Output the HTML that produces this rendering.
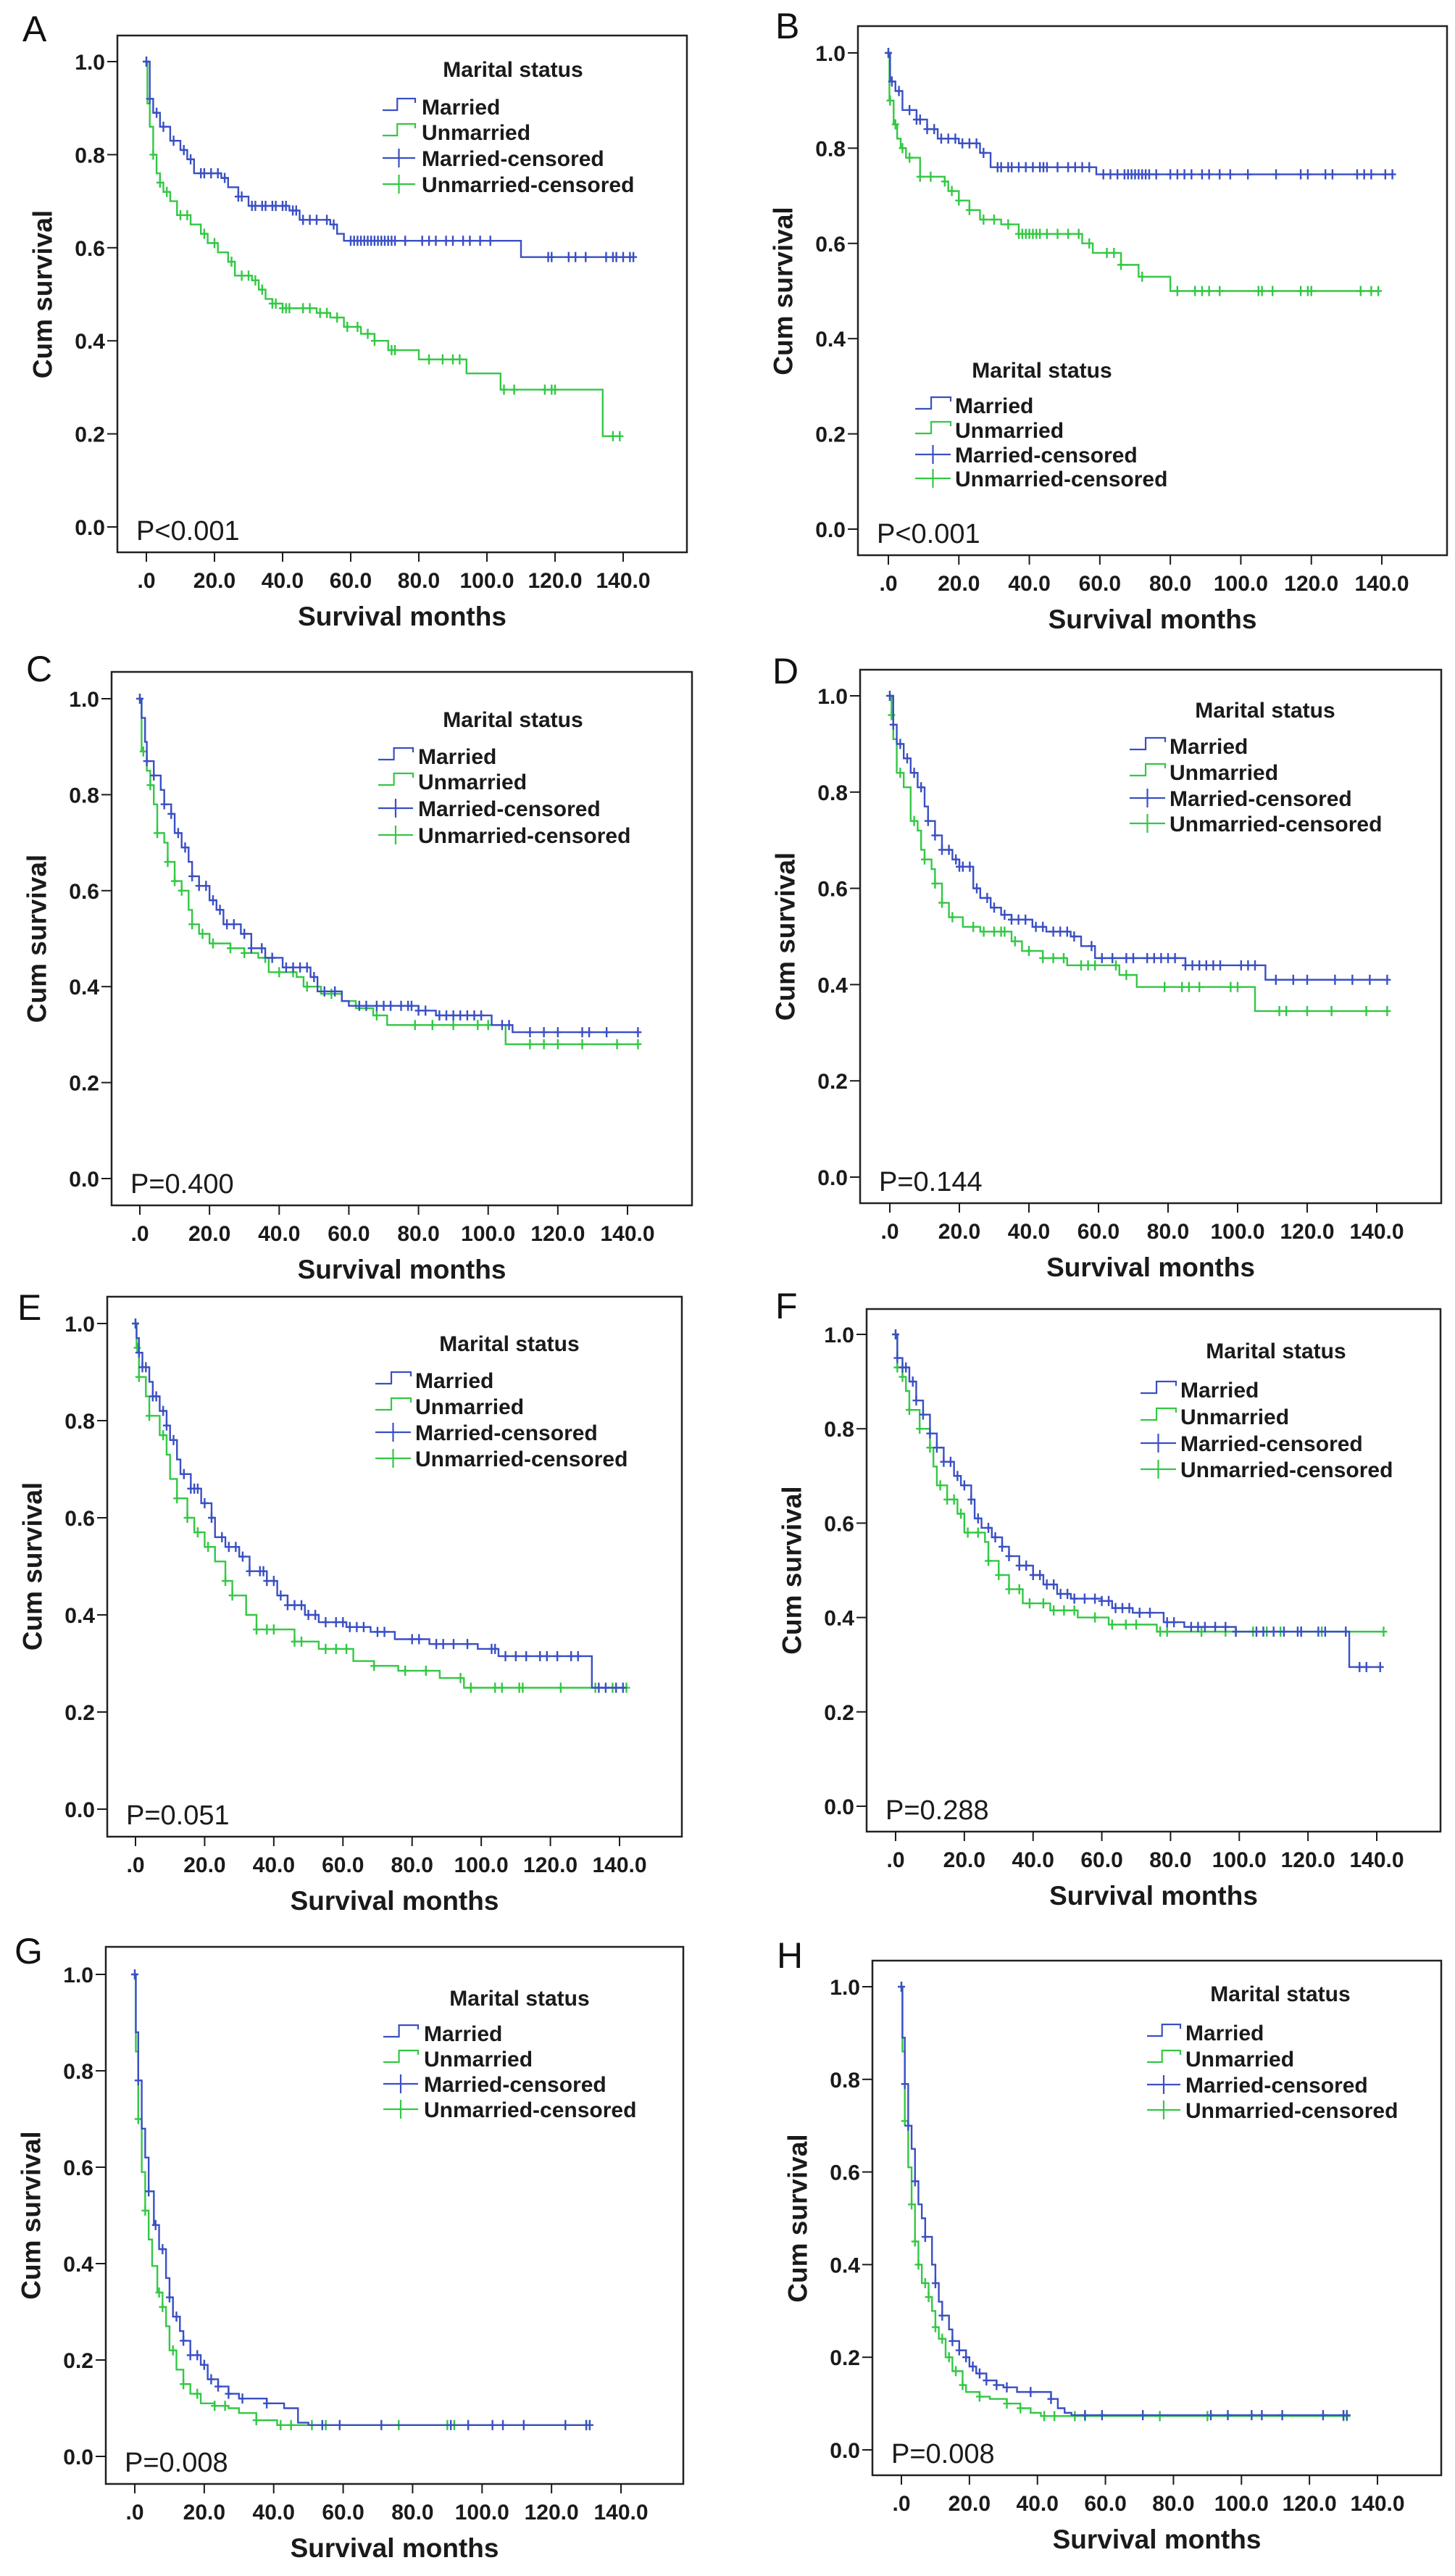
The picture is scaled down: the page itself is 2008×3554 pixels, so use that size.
<!DOCTYPE html>
<html><head><meta charset="utf-8"><title>Kaplan-Meier survival by marital status</title>
<style>
html,body{margin:0;padding:0;background:#fff;}
svg{display:block;font-family:"Liberation Sans",Arial,sans-serif;}
.tick{font-size:30px;font-weight:bold;fill:#1a1a1a;}
.axt{font-size:37px;font-weight:bold;fill:#1a1a1a;}
.leg{font-size:30px;font-weight:bold;fill:#1a1a1a;}
.pv{font-size:38px;fill:#1a1a1a;}
.plab{font-size:50px;fill:#111;}
</style></head>
<body>
<svg id="fig" width="2008" height="3554" viewBox="0 0 2008 3554" xmlns="http://www.w3.org/2000/svg"></svg>
<script>
// ---------- shared axis data ----------
var xTicks = [0,20,40,60,80,100,120,140];
var xTickLabels = ['.0','20.0','40.0','60.0','80.0','100.0','120.0','140.0'];
var yTicks = [0,0.2,0.4,0.6,0.8,1.0];
var yTickLabels = ['0.0','0.2','0.4','0.6','0.8','1.0'];

// ---------- Panel A ----------
var aMarT = [1,2,4,7,10,12,14,22,24,27,30,42,45,54,56,58,110];
var aMarS = [0.92,0.89,0.86,0.83,0.81,0.79,0.76,0.75,0.73,0.71,0.69,0.68,0.66,0.65,0.63,0.615,0.58];
var aMarC = [1,3,5,8,11,13,16,17,19,21,23,27,28,31,32,34,35,37,38,40,41,43,44,46,48,50,53,55,60,61,62,63,64,65,66,67,68,69,70,71,72,73,76,81,83,85,88,90,93,95,98,101,118,119,124,126,129,135,137,138,140,142,143];
var aUnmT = [0.3,1,2,3,4,5,7,9,13,16,18,21,24,26,31,33,35,37,40,50,54,58,63,67,71,80,94,104,134];
var aUnmS = [0.91,0.86,0.80,0.76,0.74,0.72,0.70,0.67,0.65,0.63,0.61,0.59,0.57,0.54,0.53,0.51,0.49,0.48,0.47,0.46,0.45,0.43,0.415,0.40,0.38,0.36,0.33,0.295,0.195];
var aUnmC = [2,4,6,10,12,17,20,25,28,30,32,34,37,38,40,41,42,46,48,51,53,56,59,62,65,67,72,73,83,87,90,92,105,108,117,119,120,137,139];

// ---------- Panel B ----------
var bMarT = [0.5,2,4,8,11,14,20,26,29,59];
var bMarS = [0.94,0.92,0.88,0.86,0.84,0.82,0.81,0.79,0.76,0.745];
var bMarC = [1,3,6,8,9,11,13,15,17,19,21,23,25,27,31,32,34,35,37,39,41,43,44,45,48,51,53,55,57,61,63,65,67,68,69,70,71,72,73,74,76,80,82,84,86,89,91,94,97,102,110,117,119,124,126,133,135,137,141,143];
var bUnmT = [0.3,1.5,2.5,3.5,5,9,16,17,20,23,26,32,37,55,58,66,71,80];
var bUnmS = [0.90,0.85,0.82,0.80,0.78,0.74,0.73,0.71,0.69,0.67,0.65,0.64,0.62,0.60,0.58,0.555,0.53,0.50];
var bUnmC = [0.5,2,4,6,9,12,16,18,20,23,27,30,34,37,38,39,40,41,42,43,45,48,51,54,57,62,64,66,72,82,87,89,91,94,105,106,109,117,119,120,134,137,139];

// ---------- Panel C ----------
var cMarT = [0.5,1.5,2,4,6,7,9,10,12,14,15,17,20,22,24,29,32,36,41,49,51,58,60,80,85,101,107];
var cMarS = [0.96,0.91,0.87,0.84,0.81,0.78,0.76,0.72,0.69,0.66,0.63,0.61,0.58,0.56,0.53,0.51,0.48,0.46,0.44,0.42,0.39,0.37,0.36,0.35,0.34,0.32,0.305];
var cMarC = [2,4,7,9,11,13,15,17,19,21,23,25,27,30,32,35,38,42,44,46,48,50,53,56,63,65,68,70,72,75,77,78,80,82,86,88,90,92,94,96,98,104,106,112,116,120,127,129,134,143];
var cUnmT = [0.5,2,3,4,5,7,8,10,12,14,15,17,20,26,30,34,37,45,47,52,58,62,67,71,105];
var cUnmS = [0.89,0.85,0.82,0.78,0.72,0.70,0.66,0.62,0.60,0.56,0.53,0.51,0.49,0.48,0.47,0.46,0.43,0.42,0.40,0.385,0.37,0.355,0.34,0.32,0.28];
var cUnmC = [1,3,5,8,10,12,15,18,21,26,30,36,40,44,48,55,68,79,84,90,97,100,112,116,120,127,137,143];

// ---------- Panel D ----------
var dMarT = [1,2,4,6,8,10,11,13,15,18,20,24,26,29,32,35,41,45,52,55,59,85,108];
var dMarS = [0.94,0.90,0.87,0.84,0.81,0.77,0.74,0.71,0.68,0.66,0.645,0.60,0.58,0.56,0.545,0.535,0.52,0.51,0.50,0.48,0.455,0.44,0.41];
var dMarC = [1,3,5,7,9,11,13,15,17,19,20,21,23,25,28,30,33,35,37,39,42,44,47,49,51,53,58,61,64,68,70,74,76,78,80,82,85,87,89,91,93,95,101,103,105,111,116,120,128,133,138,143];
var dUnmT = [0.5,1,2,4,6,8,9,10,12,13,15,17,21,26,35,38,44,51,66,71,105];
var dUnmS = [0.96,0.91,0.84,0.81,0.74,0.72,0.68,0.66,0.64,0.61,0.57,0.54,0.52,0.51,0.49,0.47,0.455,0.44,0.42,0.395,0.345];
var dUnmC = [0.5,3,7,10,13,15,18,24,27,30,32,33,36,40,44,47,50,55,57,59,65,68,79,84,86,89,98,100,112,114,120,127,137,143];

// ---------- Panel E ----------
var eMarT = [0.3,1,2,4,5,7,9,10,12,13,16,19,22,23,26,30,33,38,41,44,49,53,61,68,75,85,99,105,132];
var eMarS = [0.97,0.94,0.91,0.88,0.85,0.82,0.79,0.76,0.72,0.69,0.66,0.63,0.60,0.56,0.54,0.52,0.49,0.47,0.44,0.42,0.40,0.385,0.375,0.365,0.35,0.34,0.33,0.315,0.25];
var eMarC = [1,2,3,5,6,8,9,11,14,16,17,18,20,22,25,27,29,31,33,36,37,38,40,42,44,46,48,50,52,55,58,60,62,64,66,70,72,80,82,87,89,92,96,103,104,107,110,113,117,119,122,126,128,134,136,139,141];
var eUnmT = [0.3,1,3,4,7,9,10,12,15,17,20,23,26,28,32,35,46,53,63,69,76,88,95];
var eUnmS = [0.95,0.89,0.85,0.81,0.77,0.73,0.68,0.64,0.60,0.57,0.54,0.51,0.47,0.44,0.40,0.37,0.345,0.33,0.305,0.295,0.285,0.27,0.25];
var eUnmC = [0.5,1,4,8,12,15,18,21,26,28,35,38,40,46,48,55,58,61,69,78,84,94,97,104,106,111,112,123,133,138,142];

// ---------- Panel F ----------
var fMarT = [0.5,2,4,6,8,10,12,14,17,19,22,23,25,28,31,33,36,40,43,47,51,60,63,69,78,84,99,132];
var fMarS = [0.95,0.93,0.90,0.86,0.83,0.79,0.76,0.73,0.70,0.68,0.65,0.61,0.59,0.57,0.55,0.53,0.51,0.49,0.47,0.45,0.44,0.435,0.42,0.41,0.39,0.38,0.37,0.295];
var fMarC = [0.5,2,3,5,6,8,10,12,14,16,18,20,22,24,27,29,31,33,36,38,40,42,44,46,48,50,52,55,58,60,62,64,66,68,71,74,79,81,86,88,90,93,96,99,105,107,110,113,117,118,123,125,131,135,137,141];
var fUnmT = [0.5,2,3,4,7,10,11,12,15,18,20,26,27,30,33,37,45,53,62,76];
var fUnmS = [0.93,0.91,0.88,0.84,0.80,0.76,0.72,0.68,0.65,0.62,0.58,0.56,0.52,0.49,0.46,0.43,0.415,0.40,0.385,0.37];
var fUnmC = [0.5,2,4,7,10,13,15,17,19,21,24,27,30,33,36,39,43,46,49,52,58,63,67,70,77,79,89,96,99,104,108,112,118,124,131,142];

// ---------- Panel G ----------
var gMarT = [0.3,1,2,3,4,5.5,7,9,10,11,13,14,16,19,21,24,27,30,38,43,47,50];
var gMarS = [0.88,0.78,0.68,0.62,0.55,0.48,0.43,0.37,0.33,0.29,0.26,0.24,0.21,0.19,0.16,0.145,0.13,0.12,0.11,0.10,0.07,0.065];
var gMarC = [1,4,6,8,10,12,14,16,18,20,22,24,27,31,38,54,59,71,91,96,103,106,112,124,130,131];
var gUnmT = [0.3,1,2,3,4,5,6.5,8,9,10,12,14,16,19,23,27,30,35,41];
var gUnmS = [0.84,0.70,0.59,0.51,0.45,0.395,0.34,0.31,0.27,0.22,0.18,0.15,0.13,0.11,0.105,0.10,0.09,0.075,0.065];
var gUnmC = [1,3,7,8,11,14,18,23,26,35,42,45,51,55,76,90,92,130,131];

// ---------- Panel H ----------
var hMarT = [0.3,1,2,3,4,5,6,7,9,10,11,12,14,15,17,19,20,22,25,28,30,34,44,46,48,50];
var hMarS = [0.89,0.79,0.70,0.65,0.58,0.53,0.50,0.46,0.40,0.36,0.32,0.29,0.26,0.235,0.215,0.20,0.18,0.165,0.15,0.14,0.135,0.125,0.11,0.09,0.08,0.075];
var hMarC = [1,2,4,7,10,12,15,17,19,21,23,25,28,31,38,44,54,59,71,91,96,103,106,112,124,130,131];
var hUnmT = [0.3,1,2,3,4,5,6,8,9,10,11,13,15,18,19,23,26,31,35,38,41];
var hUnmS = [0.86,0.71,0.61,0.53,0.45,0.40,0.36,0.33,0.30,0.265,0.24,0.20,0.17,0.14,0.125,0.115,0.11,0.10,0.09,0.08,0.073];
var hUnmC = [1,3,4,5,7,8,10,12,14,16,18,23,31,35,42,45,51,54,76,90,130,131];

var panelLetters = ['A','B','C','D','E','F','G','H'];
var pValues = ['P<0.001','P<0.001','P=0.400','P=0.144','P=0.051','P=0.288','P=0.008','P=0.008'];

// ---------- layout (pixel geometry, not data) ----------
var layout = [
 {box:[162,49,948,762], x0:202, x140:860, y0:727, y1:85, lt:[708,96], rows:[147,182,218,254], lx:[528,573], tx:582, let:[31,57]},
 {box:[1184,36,1997,766], x0:1226, x140:1907, y0:730, y1:73, lt:[1438,511], rows:[559,593,627,660], lx:[1263,1312], tx:1318, let:[1070,53]},
 {box:[154,927,955,1663], x0:193, x140:866, y0:1626, y1:964, lt:[708,993], rows:[1043,1078,1115,1152], lx:[522,570], tx:577, let:[36,940]},
 {box:[1187,924,1989,1660], x0:1228, x140:1900, y0:1624, y1:960, lt:[1746,980], rows:[1029,1065,1101,1136], lx:[1559,1608], tx:1614, let:[1066,943]},
 {box:[148,1789,941,2534], x0:187, x140:855, y0:2496, y1:1826, lt:[703,1854], rows:[1904,1940,1976,2012], lx:[518,567], tx:573, let:[24,1821]},
 {box:[1196,1806,1988,2527], x0:1236, x140:1900, y0:2492, y1:1841, lt:[1761,1864], rows:[1917,1954,1991,2027], lx:[1574,1623], tx:1629, let:[1070,1819]},
 {box:[146,2686,943,3427], x0:186, x140:857, y0:3389, y1:2724, lt:[717,2757], rows:[2805,2840,2875,2910], lx:[529,577], tx:585, let:[20,2709]},
 {box:[1204,2705,1989,3415], x0:1244, x140:1901, y0:3380, y1:2741, lt:[1767,2751], rows:[2804,2840,2876,2911], lx:[1583,1629], tx:1636, let:[1072,2715]}
];
var series = [
 [aMarT,aMarS,aMarC,aUnmT,aUnmS,aUnmC],
 [bMarT,bMarS,bMarC,bUnmT,bUnmS,bUnmC],
 [cMarT,cMarS,cMarC,cUnmT,cUnmS,cUnmC],
 [dMarT,dMarS,dMarC,dUnmT,dUnmS,dUnmC],
 [eMarT,eMarS,eMarC,eUnmT,eUnmS,eUnmC],
 [fMarT,fMarS,fMarC,fUnmT,fUnmS,fUnmC],
 [gMarT,gMarS,gMarC,gUnmT,gUnmS,gUnmC],
 [hMarT,hMarS,hMarC,hUnmT,hUnmS,hUnmC]
];

var BLUE = '#3a4fc4', GREEN = '#33c844', INK = '#1a1a1a';
var NS = 'http://www.w3.org/2000/svg';
var svg = document.getElementById('fig');

function mk(tag, attrs, parent, text) {
  var el = document.createElementNS(NS, tag);
  for (var k in attrs) el.setAttribute(k, attrs[k]);
  if (text !== undefined) el.textContent = text;
  parent.appendChild(el);
  return el;
}
function survAt(T, S, t) {
  var s = 1;
  for (var i = 0; i < T.length; i++) { if (T[i] <= t) s = S[i]; else break; }
  return s;
}

function drawPanel(p) {
  var L = layout[p], d = series[p];
  var bx = L.box;
  var X = function (m) { return L.x0 + (L.x140 - L.x0) * m / 140; };
  var Y = function (s) { return L.y0 + (L.y1 - L.y0) * s; };

  var g = mk('g', {}, svg);
  
  

  var lab = mk('text', {x: L.let[0], y: L.let[1], 'class': 'plab'}, g, panelLetters[p]);
  
  

  var frame = mk('rect', {x: bx[0], y: bx[1], width: bx[2]-bx[0], height: bx[3]-bx[1], fill: 'none', stroke: '#222', 'stroke-width': 2.5}, g);
  
  

  // y axis ticks
  var ya = mk('g', {}, g);
  
  
  for (var i = 0; i < yTicks.length; i++) {
    var yy = Y(yTicks[i]);
    mk('line', {x1: bx[0]-14, x2: bx[0], y1: yy, y2: yy, stroke: INK, 'stroke-width': 2}, ya);
    var tl = mk('text', {x: bx[0]-17, y: yy+11, 'text-anchor': 'end', 'class': 'tick'}, ya, yTickLabels[i]);
    
    
  }
  // x axis ticks
  var xa = mk('g', {}, g);
  
  
  for (var j = 0; j < xTicks.length; j++) {
    var xx = X(xTicks[j]);
    mk('line', {x1: xx, x2: xx, y1: bx[3], y2: bx[3]+13, stroke: INK, 'stroke-width': 2}, xa);
    var xl = mk('text', {x: xx, y: bx[3]+49, 'text-anchor': 'middle', 'class': 'tick'}, xa, xTickLabels[j]);
    
    
  }
  var xt = mk('text', {x: (bx[0]+bx[2])/2, y: bx[3]+101, 'text-anchor': 'middle', 'class': 'axt'}, g, 'Survival months');
  
  
  var cy = (L.y0 + L.y1) / 2, cx = bx[0] - 103;
  var yt = mk('text', {x: cx, y: cy, 'text-anchor': 'middle', 'dominant-baseline': 'central', transform: 'rotate(-90 ' + cx + ' ' + cy + ')', 'class': 'axt'}, g, 'Cum survival');
  
  

  // curves
  var names = ['married', 'unmarried'], cols = [BLUE, GREEN];
  for (var k = 1; k >= 0; k--) {
    var T = d[k*3], S = d[k*3+1], C = d[k*3+2];
    var end = Math.max(T[T.length-1], C[C.length-1]);
    var dstr = 'M' + X(0) + ',' + Y(1);
    for (var q = 0; q < T.length; q++) dstr += 'H' + X(T[q]) + 'V' + Y(S[q]);
    dstr += 'H' + X(end);
    var path = mk('path', {d: dstr, fill: 'none', stroke: cols[k], 'stroke-width': 2.4}, g);
    
    
    var cg = mk('g', {stroke: cols[k], 'stroke-width': 2.4}, g);
    
    
    var marks = [0].concat(C);
    for (var r = 0; r < marks.length; r++) {
      var mx = X(marks[r]), my = Y(survAt(T, S, marks[r]));
      mk('line', {x1: mx, x2: mx, y1: my-7, y2: my+7}, cg);
      mk('line', {x1: mx-5, x2: mx+5, y1: my, y2: my}, cg);
    }
  }

  // p value
  var pv = mk('text', {x: bx[0]+26, y: bx[3]-17, 'class': 'pv'}, g, pValues[p]);
  
  

  // legend
  var lg = mk('g', {}, g);
  
  
  var ttl = mk('text', {x: L.lt[0], y: L.lt[1]+10, 'text-anchor': 'middle', 'class': 'leg'}, lg, 'Marital status');
  
  
  var labels = ['Married', 'Unmarried', 'Married-censored', 'Unmarried-censored'];
  var lcols = [BLUE, GREEN, BLUE, GREEN];
  for (var e = 0; e < 4; e++) {
    var ry = L.rows[e], x1 = L.lx[0], x2 = L.lx[1];
    var eg = mk('g', {}, lg);
    
    
    if (e < 2) {
      var mid = x1 + (x2 - x1) * 0.45;
      mk('path', {d: 'M' + x1 + ',' + (ry+5) + 'H' + mid + 'V' + (ry-11) + 'H' + x2 + 'V' + (ry-5), fill: 'none', stroke: lcols[e], 'stroke-width': 2.2}, eg);
    } else {
      mk('line', {x1: x1, x2: x2, y1: ry, y2: ry, stroke: lcols[e], 'stroke-width': 2.2}, eg);
      var cm = (x1 + x2) / 2;
      mk('line', {x1: cm, x2: cm, y1: ry-13, y2: ry+13, stroke: lcols[e], 'stroke-width': 2.2}, eg);
    }
    mk('text', {x: L.tx, y: ry+11, 'class': 'leg'}, eg, labels[e]);
  }
}
for (var p = 0; p < 8; p++) drawPanel(p);
</script>
</body></html>
